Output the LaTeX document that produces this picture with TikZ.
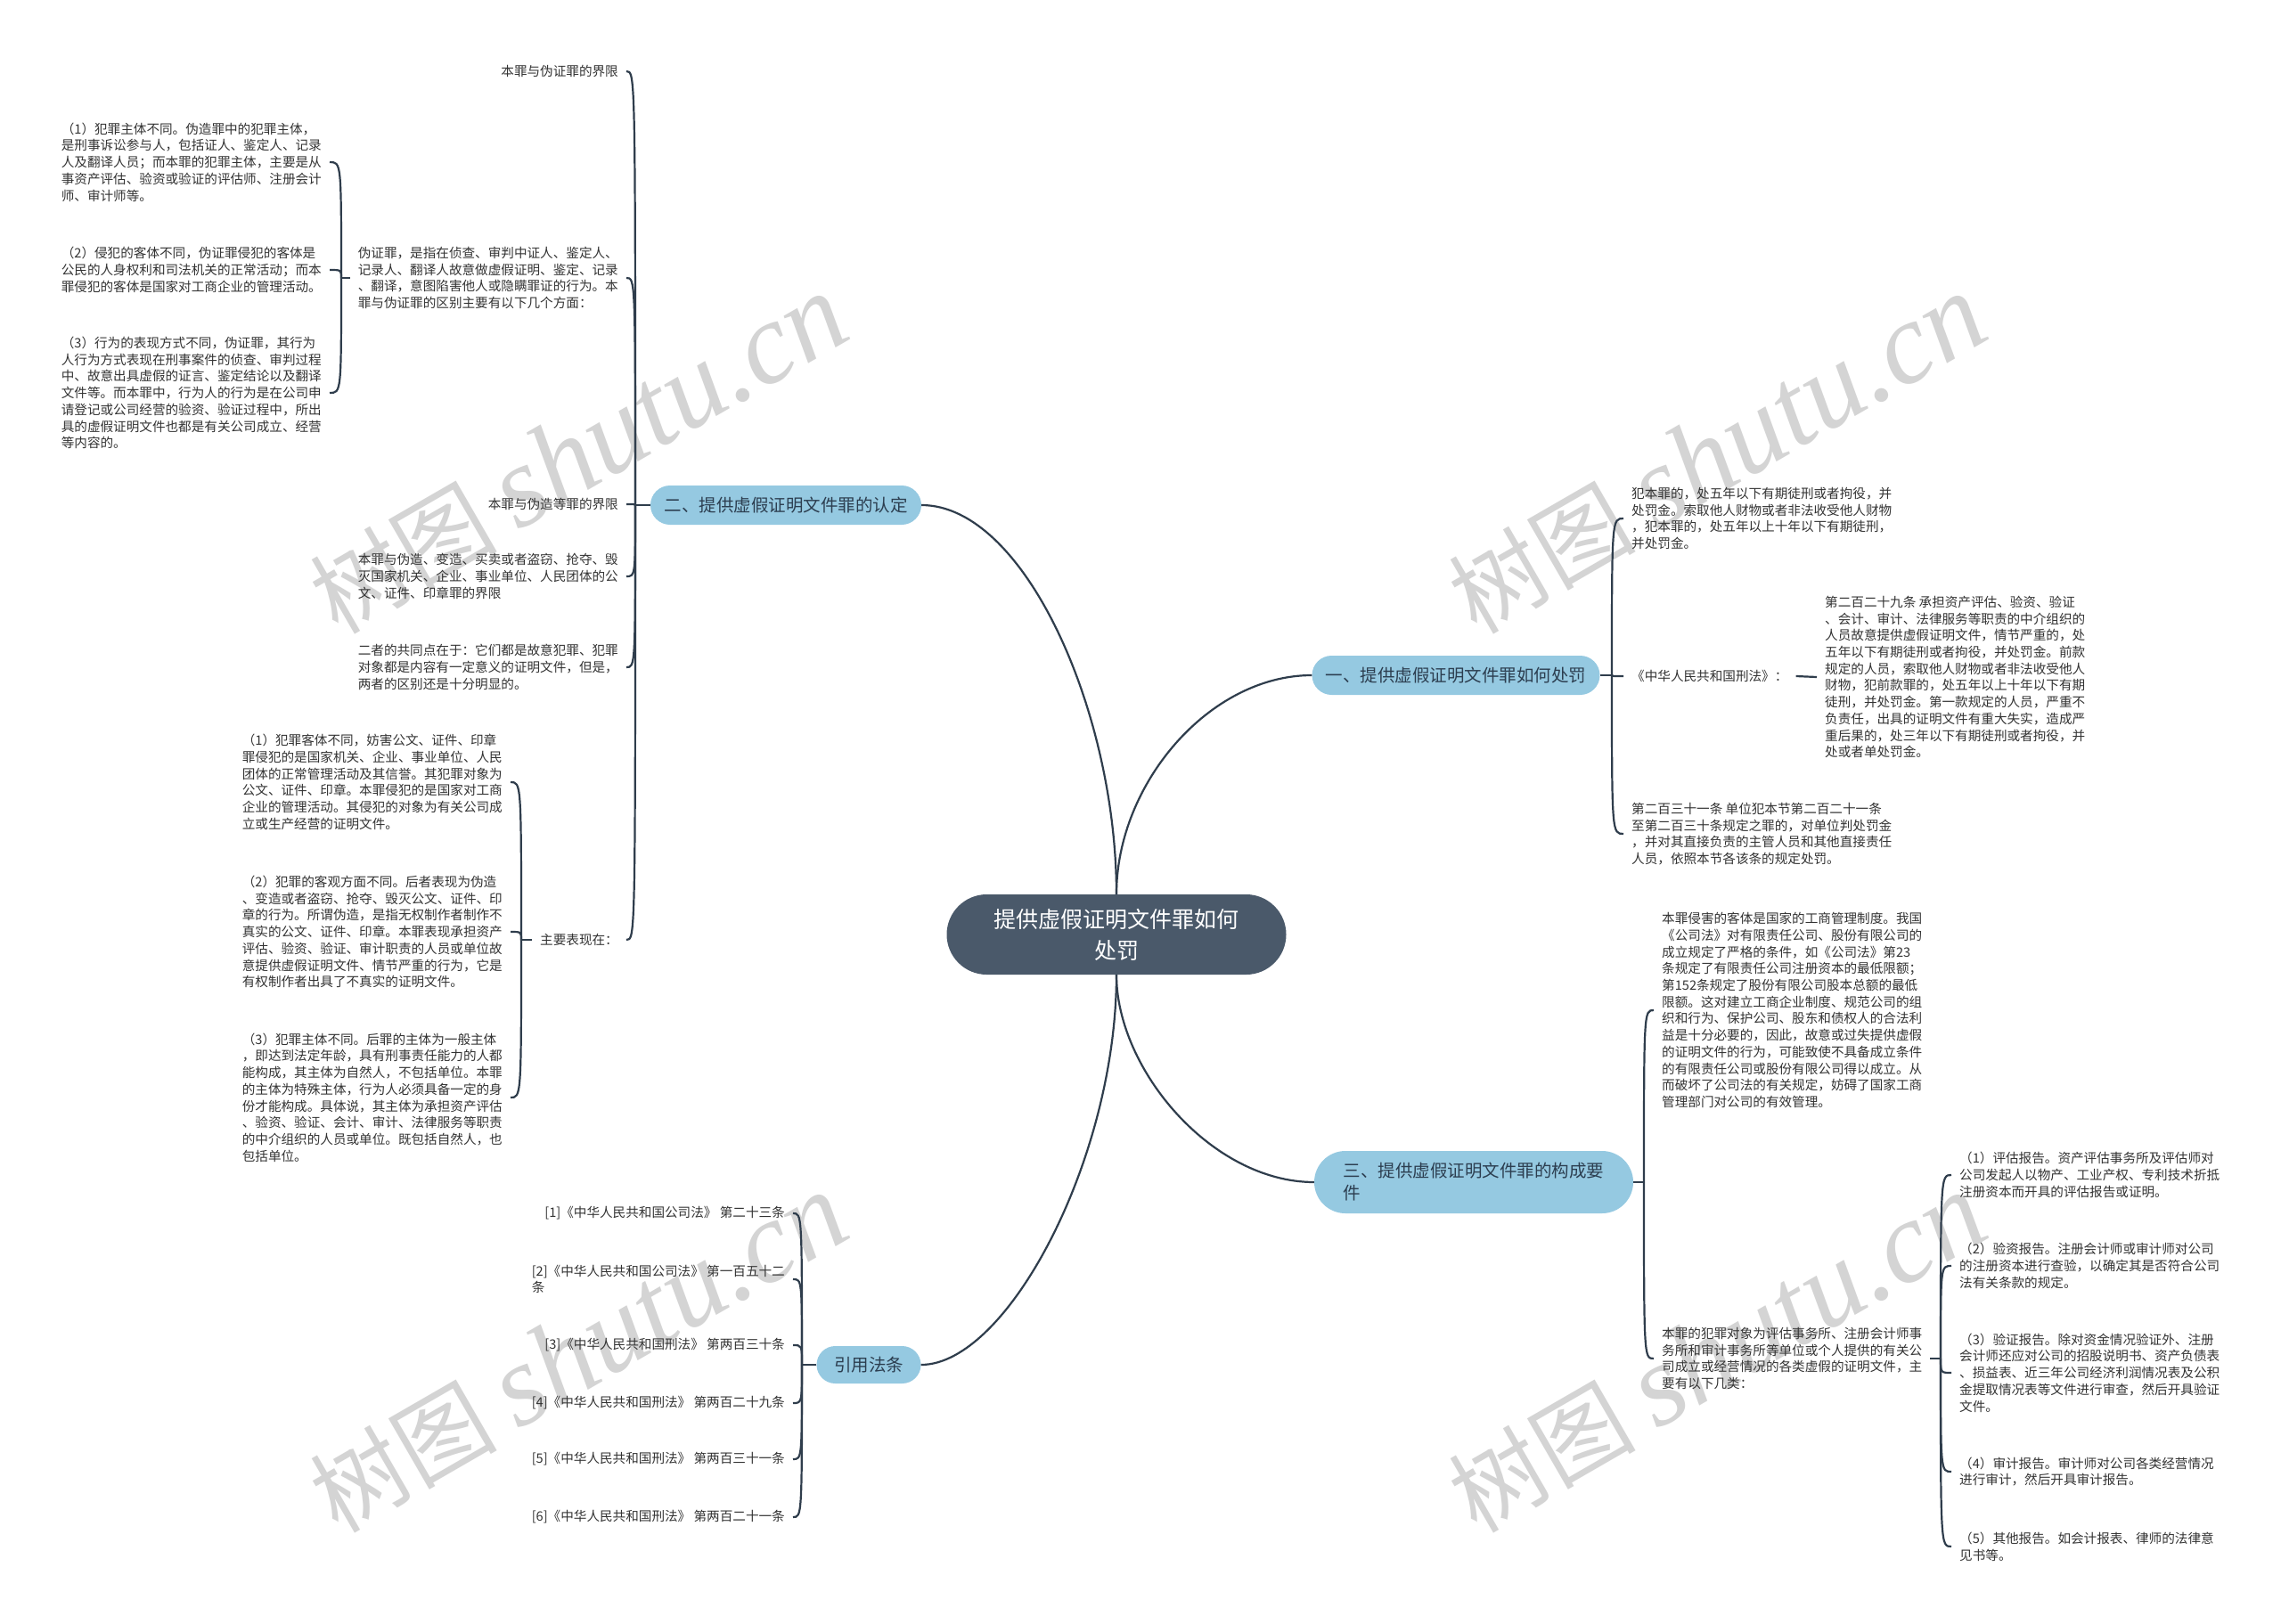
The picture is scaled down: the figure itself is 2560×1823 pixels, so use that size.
\documentclass[tikz,border=0pt]{standalone}
\usepackage{fontspec}
\setmainfont{Noto Sans CJK SC}
\newfontfamily\wmlatin{Liberation Serif}
\usetikzlibrary{calc}
\definecolor{linec}{HTML}{2F3D4C}
\definecolor{rootfill}{HTML}{4A596A}
\definecolor{brfill}{HTML}{95C9E1}
\definecolor{brtext}{HTML}{2C3E50}
\definecolor{leaftext}{HTML}{333333}
\definecolor{wmc}{HTML}{D4D4D4}
\newcommand{\bconn}[2]{\draw[conn] (#1) .. controls (#1 |- #2) and (#1 |- #2) .. (#2);}
\begin{document}
\begin{tikzpicture}[x=1pt,y=-1pt,
  conn/.style={draw=linec,line width=2.2pt},
  leaf/.style={font=\fontsize{14.6}{18.7}\selectfont,text=leaftext,align=left,inner xsep=9pt,inner ysep=1pt},
  branch/.style={fill=brfill,text=brtext,font=\fontsize{19.5}{25}\selectfont,inner sep=0pt},
  wm/.style={text=wmc,rotate=30,inner sep=0pt}]
\fill[white] (0,0) rectangle (2560,1823);
\useasboundingbox (0,0) rectangle (2560,1823);
% watermarks
\foreach \wx/\wy [count=\wi] in {649/510,1927/510,649/1519,1927/1519}{
  \node[wm] (wm\wi) at (\wx,\wy) {\fontsize{105}{105}\selectfont 树图 {\fontsize{130}{130}\selectfont\wmlatin\itshape shutu.cn}};
}
% root and branches
\node[fill=rootfill,text=white,rounded corners=45pt,minimum width=381pt,minimum height=90pt,inner sep=0pt,align=center,font=\fontsize{25}{35}\selectfont] (root) at (1253,1049) {提供虚假证明文件罪如何\\处罚};
\node[branch,rounded corners=22pt,minimum width=323pt,minimum height=44pt] (b1) at (1634,758) {一、提供虚假证明文件罪如何处罚};
\node[branch,rounded corners=22pt,minimum width=304pt,minimum height=44pt] (b2) at (882,567) {二、提供虚假证明文件罪的认定};
\node[branch,rounded corners=35pt,minimum width=358pt,minimum height=70pt,align=left] (b3) at (1654,1327) {三、提供虚假证明文件罪的构成要\\件};
\node[branch,rounded corners=21pt,minimum width=117pt,minimum height=42pt] (b4) at (975,1532) {引用法条};
\draw[conn] (root.north) .. controls +(0,-204) and +(116,0) .. (b2.east);
\draw[conn] (root.north) .. controls +(0,-124) and +(-115,0) .. (b1.west);
\draw[conn] (root.south) .. controls +(0,106) and +(-115,0) .. (b3.west);
\draw[conn] (root.south) .. controls +(0,206) and +(97,0) .. (b4.east);

% ---------- group 二 ----------
\coordinate (j2) at (713,567);
\draw[conn] (b2.west) -- (j2);
\node[leaf,anchor=east] (c2a) at (703,80) {本罪与伪证罪的界限};
\node[leaf,anchor=east] (c2b) at (703,312) {伪证罪，是指在侦查、审判中证人、鉴定人、\\记录人、翻译人故意做虚假证明、鉴定、记录\\、翻译，意图陷害他人或隐瞒罪证的行为。本\\罪与伪证罪的区别主要有以下几个方面：};
\node[leaf,anchor=east] (c2c) at (703,566) {本罪与伪造等罪的界限};
\node[leaf,anchor=east] (c2d) at (703,647) {本罪与伪造、变造、买卖或者盗窃、抢夺、毁\\灭国家机关、企业、事业单位、人民团体的公\\文、证件、印章罪的界限};
\node[leaf,anchor=east] (c2e) at (703,749) {二者的共同点在于：它们都是故意犯罪、犯罪\\对象都是内容有一定意义的证明文件，但是，\\两者的区别还是十分明显的。};
\node[leaf,anchor=east] (c2f) at (703,1055) {主要表现在：};
\bconn{j2}{c2a.east}
\bconn{j2}{c2b.east}
\bconn{j2}{c2c.east}
\bconn{j2}{c2d.east}
\bconn{j2}{c2e.east}
\bconn{j2}{c2f.east}

% children of 伪证罪
\coordinate (j2b) at (383,312);
\draw[conn] (c2b.west) -- (j2b);
\node[leaf,anchor=east] (c2b1) at (370,182) {（1）犯罪主体不同。伪造罪中的犯罪主体，\\是刑事诉讼参与人，包括证人、鉴定人、记录\\人及翻译人员；而本罪的犯罪主体，主要是从\\事资产评估、验资或验证的评估师、注册会计\\师、审计师等。};
\node[leaf,anchor=east] (c2b2) at (370,303) {（2）侵犯的客体不同，伪证罪侵犯的客体是\\公民的人身权利和司法机关的正常活动；而本\\罪侵犯的客体是国家对工商企业的管理活动。};
\node[leaf,anchor=east] (c2b3) at (370,441) {（3）行为的表现方式不同，伪证罪，其行为\\人行为方式表现在刑事案件的侦查、审判过程\\中、故意出具虚假的证言、鉴定结论以及翻译\\文件等。而本罪中，行为人的行为是在公司申\\请登记或公司经营的验资、验证过程中，所出\\具的虚假证明文件也都是有关公司成立、经营\\等内容的。};
\bconn{j2b}{c2b1.east}
\bconn{j2b}{c2b2.east}
\bconn{j2b}{c2b3.east}

% children of 主要表现在
\coordinate (j2f) at (585,1055);
\draw[conn] (c2f.west) -- (j2f);
\node[leaf,anchor=east] (c2f1) at (573,878) {（1）犯罪客体不同，妨害公文、证件、印章\\罪侵犯的是国家机关、企业、事业单位、人民\\团体的正常管理活动及其信誉。其犯罪对象为\\公文、证件、印章。本罪侵犯的是国家对工商\\企业的管理活动。其侵犯的对象为有关公司成\\立或生产经营的证明文件。};
\node[leaf,anchor=east] (c2f2) at (573,1046) {（2）犯罪的客观方面不同。后者表现为伪造\\、变造或者盗窃、抢夺、毁灭公文、证件、印\\章的行为。所谓伪造，是指无权制作者制作不\\真实的公文、证件、印章。本罪表现承担资产\\评估、验资、验证、审计职责的人员或单位故\\意提供虚假证明文件、情节严重的行为，它是\\有权制作者出具了不真实的证明文件。};
\node[leaf,anchor=east] (c2f3) at (573,1232) {（3）犯罪主体不同。后罪的主体为一般主体\\，即达到法定年龄，具有刑事责任能力的人都\\能构成，其主体为自然人，不包括单位。本罪\\的主体为特殊主体，行为人必须具备一定的身\\份才能构成。具体说，其主体为承担资产评估\\、验资、验证、会计、审计、法律服务等职责\\的中介组织的人员或单位。既包括自然人，也\\包括单位。};
\bconn{j2f}{c2f1.east}
\bconn{j2f}{c2f2.east}
\bconn{j2f}{c2f3.east}

% ---------- group 引用法条 ----------
\coordinate (j4) at (900,1532);
\draw[conn] (b4.west) -- (j4);
\node[leaf,anchor=east] (r1) at (890,1362) {[1]《中华人民共和国公司法》 第二十三条};
\node[leaf,anchor=east] (r2) at (890,1436) {[2]《中华人民共和国公司法》 第一百五十二\\条};
\node[leaf,anchor=east] (r3) at (890,1510) {[3]《中华人民共和国刑法》 第两百三十条};
\node[leaf,anchor=east] (r4) at (890,1575) {[4]《中华人民共和国刑法》 第两百二十九条};
\node[leaf,anchor=east] (r5) at (890,1638) {[5]《中华人民共和国刑法》 第两百三十一条};
\node[leaf,anchor=east] (r6) at (890,1703) {[6]《中华人民共和国刑法》 第两百二十一条};
\bconn{j4}{r1.east}
\bconn{j4}{r2.east}
\bconn{j4}{r3.east}
\bconn{j4}{r4.east}
\bconn{j4}{r5.east}
\bconn{j4}{r6.east}

% ---------- group 一 ----------
\coordinate (j1) at (1809,758);
\draw[conn] (b1.east) -- (j1);
\node[leaf,anchor=west] (c1a) at (1822,582) {犯本罪的，处五年以下有期徒刑或者拘役，并\\处罚金。索取他人财物或者非法收受他人财物\\，犯本罪的，处五年以上十年以下有期徒刑，\\并处罚金。};
\node[leaf,anchor=west] (c1b) at (1822,759) {《中华人民共和国刑法》：};
\node[leaf,anchor=west] (c1b1) at (2039,760) {第二百二十九条 承担资产评估、验资、验证\\、会计、审计、法律服务等职责的中介组织的\\人员故意提供虚假证明文件，情节严重的，处\\五年以下有期徒刑或者拘役，并处罚金。前款\\规定的人员，索取他人财物或者非法收受他人\\财物，犯前款罪的，处五年以上十年以下有期\\徒刑，并处罚金。第一款规定的人员，严重不\\负责任，出具的证明文件有重大失实，造成严\\重后果的，处三年以下有期徒刑或者拘役，并\\处或者单处罚金。};
\node[leaf,anchor=west] (c1c) at (1822,936) {第二百三十一条 单位犯本节第二百二十一条\\至第二百三十条规定之罪的，对单位判处罚金\\，并对其直接负责的主管人员和其他直接责任\\人员，依照本节各该条的规定处罚。};
\bconn{j1}{c1a.west}
\bconn{j1}{c1b.west}
\bconn{j1}{c1c.west}
\draw[conn] (c1b.east) -- (c1b1.west);

% ---------- group 三 ----------
\coordinate (j3) at (1845,1327);
\draw[conn] (b3.east) -- (j3);
\node[leaf,anchor=west] (c3a) at (1856,1134) {本罪侵害的客体是国家的工商管理制度。我国\\《公司法》对有限责任公司、股份有限公司的\\成立规定了严格的条件，如《公司法》第23\\条规定了有限责任公司注册资本的最低限额；\\第152条规定了股份有限公司股本总额的最低\\限额。这对建立工商企业制度、规范公司的组\\织和行为、保护公司、股东和债权人的合法利\\益是十分必要的，因此，故意或过失提供虚假\\的证明文件的行为，可能致使不具备成立条件\\的有限责任公司或股份有限公司得以成立。从\\而破坏了公司法的有关规定，妨碍了国家工商\\管理部门对公司的有效管理。};
\node[leaf,anchor=west] (c3b) at (1856,1525) {本罪的犯罪对象为评估事务所、注册会计师事\\务所和审计事务所等单位或个人提供的有关公\\司成立或经营情况的各类虚假的证明文件，主\\要有以下几类：};
\bconn{j3}{c3a.west}
\bconn{j3}{c3b.west}

\coordinate (j3b) at (2178,1525);
\draw[conn] (c3b.east) -- (j3b);
\node[leaf,anchor=west] (c3b1) at (2190,1319) {（1）评估报告。资产评估事务所及评估师对\\公司发起人以物产、工业产权、专利技术折抵\\注册资本而开具的评估报告或证明。};
\node[leaf,anchor=west] (c3b2) at (2190,1421) {（2）验资报告。注册会计师或审计师对公司\\的注册资本进行查验，以确定其是否符合公司\\法有关条款的规定。};
\node[leaf,anchor=west] (c3b3) at (2190,1541) {（3）验证报告。除对资金情况验证外、注册\\会计师还应对公司的招股说明书、资产负债表\\、损益表、近三年公司经济利润情况表及公积\\金提取情况表等文件进行审查，然后开具验证\\文件。};
\node[leaf,anchor=west] (c3b4) at (2190,1652) {（4）审计报告。审计师对公司各类经营情况\\进行审计，然后开具审计报告。};
\node[leaf,anchor=west] (c3b5) at (2190,1736) {（5）其他报告。如会计报表、律师的法律意\\见书等。};
\bconn{j3b}{c3b1.west}
\bconn{j3b}{c3b2.west}
\bconn{j3b}{c3b3.west}
\bconn{j3b}{c3b4.west}
\bconn{j3b}{c3b5.west}
\end{tikzpicture}
\end{document}
